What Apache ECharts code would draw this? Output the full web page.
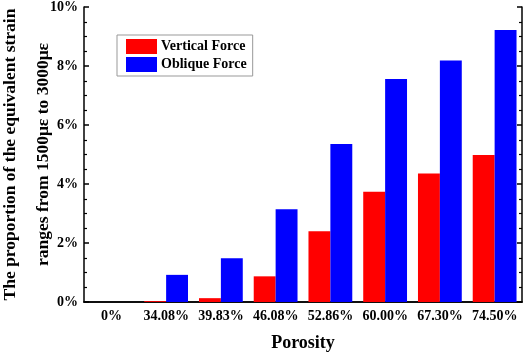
<!DOCTYPE html>
<html>
<head>
<meta charset="utf-8">
<script src="https://cdn.jsdelivr.net/npm/echarts@6/dist/echarts.min.js"></script>
<style>
  html, body { margin: 0; padding: 0; background: #fff; }
  #chart { width: 526px; height: 353px; }
</style>
</head>
<body>
<div id="chart"></div>
<script>
const categories = ['0%', '34.08%', '39.83%', '46.08%', '52.86%', '60.00%', '67.30%', '74.50%']
const verticalForce = [0, 0.03, 0.13, 0.87, 2.40, 3.74, 4.36, 4.98]
const obliqueForce = [0, 0.92, 1.48, 3.14, 5.36, 7.56, 8.19, 9.22]

const serif = "'Liberation Serif', 'Times New Roman', serif"

const tickStyle = { color: '#000', width: 1.5 }

const option = {
  animation: false,
  grid: { left: 84, right: 4, top: 7, bottom: 51, containLabel: false, outerBoundsMode: 'none' },
  legend: {
    orient: 'vertical',
    left: 117,
    top: 35,
    icon: 'rect',
    itemWidth: 31,
    itemHeight: 15,
    itemGap: 3,
    padding: [4, 6, 4, 9],
    borderColor: '#999',
    borderWidth: 1,
    textStyle: { fontFamily: serif, fontWeight: 'bold', fontSize: 14, color: '#000', padding: [0, 0, 0, -1] },
    data: ['Vertical Force', 'Oblique Force']
  },
  xAxis: [
    {
      type: 'category',
      data: categories,
      name: 'Porosity',
      nameLocation: 'middle',
      nameGap: 32,
      nameMoveOverlap: false,
      nameTextStyle: { fontFamily: serif, fontWeight: 'bold', fontSize: 18, color: '#000' },
      axisLine: { lineStyle: { color: '#000', width: 1.5 } },
      axisTick: { inside: true, alignWithLabel: true, length: 5, lineStyle: tickStyle },
      axisLabel: { interval: 0, fontFamily: serif, fontWeight: 'bold', fontSize: 14, color: '#000', margin: 7 }
    },
    {
      type: 'category',
      data: categories,
      position: 'top',
      axisLine: { lineStyle: { color: '#000', width: 1.5 } },
      axisTick: { inside: true, alignWithLabel: true, interval: 0, length: 5, lineStyle: tickStyle },
      axisLabel: { show: false, interval: 0 }
    }
  ],
  yAxis: [
    {
      type: 'value',
      min: 0,
      max: 10,
      interval: 2,
      name: 'The proportion of the equivalent strain\nranges from 1500με to 3000με',
      nameLocation: 'middle',
      nameGap: 24,
      nameMoveOverlap: false,
      nameTextStyle: { fontFamily: serif, fontWeight: 'bold', fontSize: 17.5, color: '#000', lineHeight: 33 },
      axisLine: { show: true, lineStyle: { color: '#000', width: 1.5 } },
      axisTick: { show: true, inside: true, length: 5, lineStyle: tickStyle },
      minorTick: { show: true, splitNumber: 4, length: 3, lineStyle: { color: '#000', width: 1.2 } },
      splitLine: { show: false },
      axisLabel: { fontFamily: serif, fontWeight: 'bold', fontSize: 14, color: '#000', margin: 6, formatter: '{value}%' }
    },
    {
      type: 'value',
      min: 0,
      max: 10,
      interval: 2,
      position: 'right',
      axisLine: { show: true, lineStyle: { color: '#000', width: 1.5 } },
      axisTick: { show: true, inside: true, length: 5, lineStyle: tickStyle },
      minorTick: { show: true, splitNumber: 4, length: 3, lineStyle: { color: '#000', width: 1.2 } },
      splitLine: { show: false },
      axisLabel: { show: false }
    }
  ],
  series: [
    {
      name: 'Vertical Force',
      type: 'bar',
      data: verticalForce,
      barGap: 0,
      barCategoryGap: '20%',
      itemStyle: { color: '#ff0000' }
    },
    {
      name: 'Oblique Force',
      type: 'bar',
      data: obliqueForce,
      barGap: 0,
      barCategoryGap: '20%',
      itemStyle: { color: '#0000ff' }
    }
  ]
}

const chart = echarts.init(document.getElementById('chart'))
chart.setOption(option)
</script>
</body>
</html>
